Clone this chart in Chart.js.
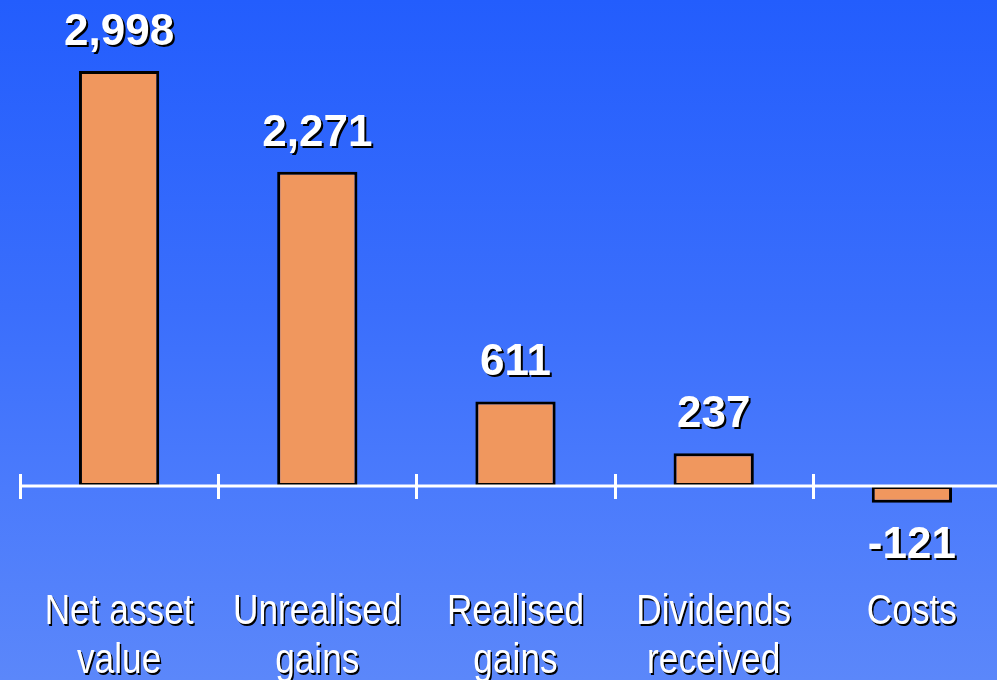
<!DOCTYPE html>
<html>
<head>
<meta charset="utf-8">
<script src="https://cdn.jsdelivr.net/npm/chart.js@4"></script>
<style>
  html, body { margin: 0; padding: 0; overflow: hidden; }
  body {
    width: 997px; height: 680px;
    background: linear-gradient(to bottom, #235dfd 0%, #3a6efc 45%, #4b7bfc 72%, #5b87fa 100%);
  }
  canvas { display: block; }
</style>
</head>
<body>
<canvas id="bars" width="1020" height="680"></canvas>
<script>
const categories = [['Net asset', 'value'], ['Unrealised', 'gains'], ['Realised', 'gains'], ['Dividends', 'received'], ['Costs']];
const values = [2998, 2271, 611, 237, -121];

// white zero axis, category ticks, value labels and category names
const overlay = {
  id: 'overlay',
  afterDatasetsDraw(chart) {
    const c = chart.ctx;
    const xs = chart.scales.x;
    const ys = chart.scales.y;
    const y0 = ys.getPixelForValue(0);
    const step = xs.getPixelForValue(1) - xs.getPixelForValue(0);

    c.save();
    c.strokeStyle = '#ffffff';
    c.lineWidth = 3;
    c.beginPath();
    c.moveTo(chart.chartArea.left, y0);
    c.lineTo(chart.width, y0);
    for (let i = 0; i <= categories.length; i++) {
      const x = Math.round(xs.getPixelForValue(i) - step / 2) + 0.5;
      c.moveTo(x, y0 - 12);
      c.lineTo(x, y0 + 13);
    }
    c.stroke();

    c.textAlign = 'center';
    c.textBaseline = 'alphabetic';
    c.shadowColor = '#000000';
    c.shadowBlur = 0;
    c.fillStyle = '#ffffff';

    // value labels
    c.font = 'bold 44px "Liberation Sans", Arial, sans-serif';
    c.shadowOffsetX = 2;
    c.shadowOffsetY = 2;
    const meta = chart.getDatasetMeta(0);
    meta.data.forEach((bar, i) => {
      const v = values[i];
      const y = v >= 0 ? bar.y - 26 : bar.y + 55;
      c.fillText(v.toLocaleString('en-US'), bar.x, y);
    });

    // category names below the axis, squeezed horizontally
    c.font = '43px "Liberation Sans", Arial, sans-serif';
    c.shadowOffsetX = 1.5;
    c.shadowOffsetY = 1.5;
    const squeeze = 0.82;
    categories.forEach((lines, i) => {
      const x = xs.getPixelForValue(i);
      lines.forEach((t, j) => {
        c.save();
        c.translate(x, 624 + j * 49);
        c.scale(squeeze, 1);
        c.fillText(t, 0, 0);
        c.restore();
      });
    });
    c.restore();
  }
};

new Chart(document.getElementById('bars'), {
  type: 'bar',
  data: {
    labels: categories.map(l => l.join(' ')),
    datasets: [{
      data: values,
      backgroundColor: '#f0975e',
      borderColor: '#000000',
      borderWidth: 3,
      borderSkipped: false,
      barPercentage: 0.405,
      categoryPercentage: 1
    }]
  },
  options: {
    responsive: false,
    devicePixelRatio: 1,
    animation: false,
    layout: { padding: { left: 20, right: 9, top: 0, bottom: 0 } },
    plugins: { legend: { display: false }, tooltip: { enabled: false } },
    scales: {
      x: { display: false, offset: true },
      y: { display: false, min: -1402, max: 3511 }
    }
  },
  plugins: [overlay]
});
</script>
</body>
</html>
